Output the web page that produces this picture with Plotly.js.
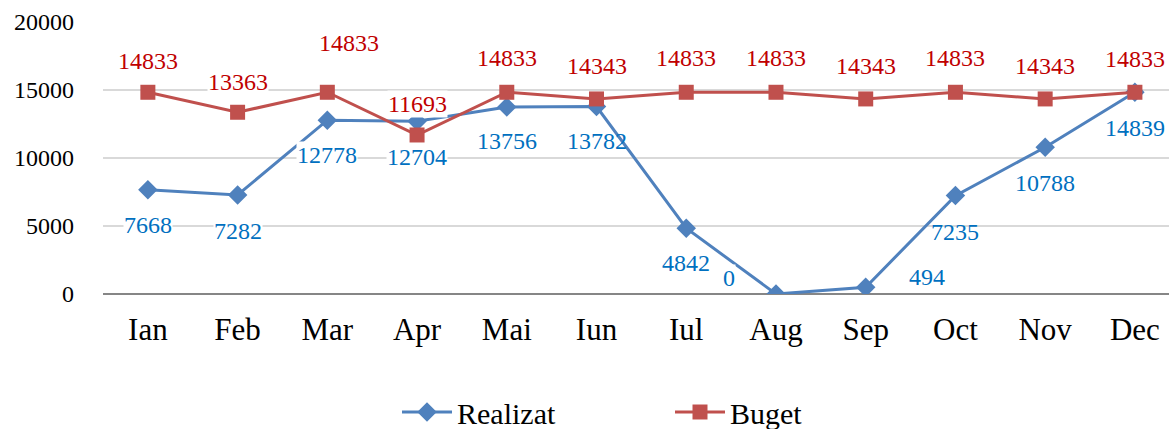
<!DOCTYPE html>
<html>
<head>
<meta charset="utf-8">
<script src="https://cdn.plot.ly/plotly-3.0.1.min.js"></script>
<style>html,body{margin:0;padding:0;background:#fff;}#chart{width:1169px;height:429px;}</style>
</head>
<body>
<div id="chart"></div>
<script>
// ---- data ----
const months = ["Ian","Feb","Mar","Apr","Mai","Iun","Iul","Aug","Sep","Oct","Nov","Dec"];
const realizat = [7668,7282,12778,12704,13756,13782,4842,0,494,7235,10788,14839];
const buget = [14833,13363,14833,11693,14833,14343,14833,14833,14343,14833,14343,14833];
const yTicks = [0,5000,10000,15000,20000];

// ---- label offsets (style, px; +dy = below the point) ----
const realOff = [[0,35],[0,36],[0,35],[0,36],[0,34],[0,34],[0,35],[-47,-16],[61,-10],[0,36],[0,36],[0,36]];
const bugOff = [[0,-31],[0,-30],[22,-49],[0,-31],[0,-34],[0,-33],[0,-34],[0,-34],[0,-33],[0,-34],[0,-33],[0,-33]];
const realBg = [1,1,1,1,1,0,1,1,1,0,1,1];

const serif = "'Liberation Serif', 'Times New Roman', serif";
const blue = "#4F81BD", red = "#C0504D";

const traces = [
  {x: months, y: realizat, name: "Realizat", type: "scatter", mode: "lines+markers",
   line: {color: blue, width: 3}, marker: {symbol: "diamond", size: 15, color: blue}},
  {x: months, y: buget, name: "Buget", type: "scatter", mode: "lines+markers",
   line: {color: red, width: 3}, marker: {symbol: "square", size: 15, color: red}}
];

const annotations = [];
months.forEach((m, i) => {
  annotations.push({x: m, y: realizat[i], text: String(realizat[i]), showarrow: false,
    xshift: realOff[i][0], yshift: -realOff[i][1],
    bgcolor: realBg[i] ? "rgba(255,255,255,1)" : "rgba(255,255,255,0)", borderpad: 0,
    font: {family: serif, size: 24, color: "#0070C0"}});
  annotations.push({x: m, y: buget[i], text: String(buget[i]), showarrow: false,
    xshift: bugOff[i][0], yshift: -bugOff[i][1], bgcolor: "rgba(255,255,255,1)", borderpad: 0,
    font: {family: serif, size: 24, color: "#C00000"}});
});

const layout = {
  width: 1169, height: 429,
  margin: {l: 103, r: 0, t: 22, b: 135, pad: 0},
  paper_bgcolor: "#fff", plot_bgcolor: "#fff",
  showlegend: true,
  font: {family: serif, color: "#000"},
  xaxis: {type: "category", range: [-0.5, 11.38], showgrid: false, zeroline: false,
    showline: false, ticks: "", tickfont: {family: serif, size: 31, color: "#000"},
    ticklabelstandoff: 14, fixedrange: true},
  yaxis: {range: [0, 20000], tickvals: yTicks, ticktext: yTicks.map(String),
    showgrid: true, gridcolor: "#D9D9D9", gridwidth: 1.5,
    zeroline: true, zerolinecolor: "#868686", zerolinewidth: 2,
    showline: false, ticks: "", tickfont: {family: serif, size: 24, color: "#000"},
    ticklabelstandoff: 28, fixedrange: true},
  legend: {orientation: "h", xref: "container", yref: "container", x: 397/1169, xanchor: "left",
    y: 1 - 386/429, yanchor: "top", font: {family: serif, size: 30, color: "#000"},
    itemwidth: 50, entrywidth: 208, entrywidthmode: "pixels", bgcolor: "rgba(0,0,0,0)"},
  annotations: annotations
};

Plotly.newPlot("chart", traces, layout, {displayModeBar: false, staticPlot: true});
</script>
</body>
</html>
